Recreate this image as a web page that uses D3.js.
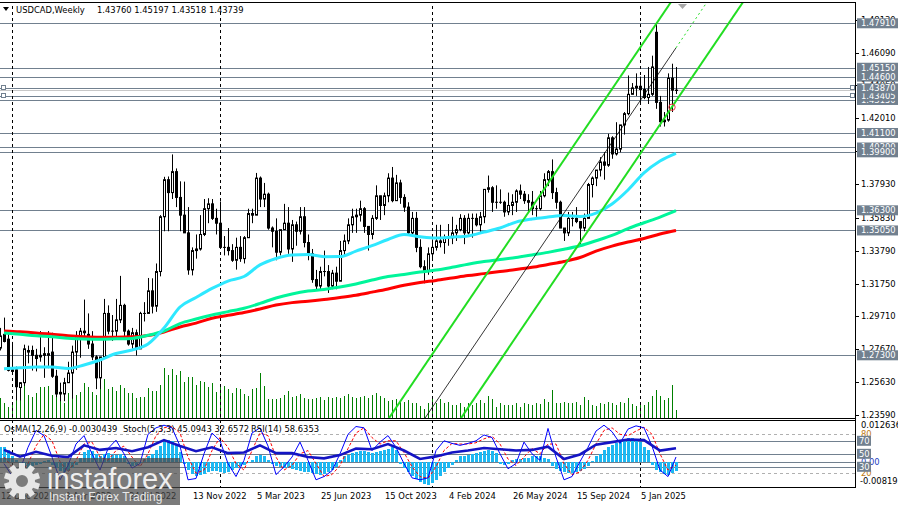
<!DOCTYPE html>
<html><head><meta charset="utf-8">
<script src="https://d3js.org/d3.v7.min.js"></script>
<style>
html,body{margin:0;padding:0;background:#fff;}
svg{display:block;}
text{font-family:"DejaVu Sans",Verdana,sans-serif;font-size:8.4px;}
</style></head><body>
<svg id="chart" width="898" height="505"></svg>
<script>
// ---------------- DATA ----------------
const firstWeek = "2021-12-12", lastWeek = "2025-03-09";
const open = [1.2775,1.2860,1.2830,1.2630,1.2640,1.2530,1.2560,1.2750,1.2760,1.2730,
1.2720,1.2740,1.2730,1.2750,1.2600,1.2490,1.2490,1.2560,1.2620,1.2750,
1.2850,1.2880,1.2860,1.2800,1.2720,1.2590,1.2720,1.2990,1.2880,1.2880,
1.2950,1.3040,1.2880,1.2800,1.2870,1.2770,1.2990,1.2990,1.3130,1.3035,
1.3250,1.3590,1.3820,1.3740,1.3870,1.3710,1.3600,1.3490,1.3260,1.3380,
1.3390,1.3480,1.3640,1.3670,1.3580,1.3550,1.3400,1.3400,1.3380,1.3320,
1.3400,1.3330,1.3460,1.3610,1.3600,1.3830,1.3700,1.3730,1.3520,1.3500,
1.3370,1.3510,1.3550,1.3390,1.3540,1.3500,1.3590,1.3430,1.3360,1.3200,
1.3160,1.3250,1.3250,1.3160,1.3240,1.3190,1.3380,1.3440,1.3540,1.3590,
1.3600,1.3640,1.3530,1.3480,1.3580,1.3720,1.3660,1.3720,1.3830,1.3690,
1.3800,1.3710,1.3650,1.3490,1.3580,1.3400,1.3280,1.3250,1.3360,1.3400,
1.3440,1.3430,1.3460,1.3460,1.3490,1.3510,1.3580,1.3490,1.3580,1.3580,
1.3540,1.3590,1.3760,1.3770,1.3680,1.3680,1.3680,1.3620,1.3660,1.3680,
1.3750,1.3730,1.3690,1.3680,1.3640,1.3640,1.3720,1.3820,1.3870,1.3740,
1.3680,1.3520,1.3490,1.3580,1.3580,1.3560,1.3520,1.3580,1.3790,1.3830,
1.3880,1.3930,1.3910,1.4080,1.3980,1.4010,1.4160,1.4230,1.4350,1.4390,
1.4400,1.4380,1.4330,1.4350,1.4735,1.4300,1.4180,1.4190,1.4450,1.4376];
const high = [1.2900,1.2964,1.2870,1.2813,1.2660,1.2563,1.2796,1.2790,1.2790,1.2770,
1.2880,1.2780,1.2880,1.2870,1.2640,1.2560,1.2590,1.2690,1.2790,1.2880,
1.2900,1.3076,1.2990,1.2880,1.2730,1.2700,1.3080,1.3040,1.2980,1.3080,
1.3223,1.3050,1.2890,1.2900,1.2890,1.3000,1.3060,1.3210,1.3208,1.3300,
1.3600,1.3838,1.3840,1.3977,1.3890,1.3810,1.3808,1.3650,1.3400,1.3480,
1.3600,1.3700,1.3705,1.3700,1.3640,1.3685,1.3470,1.3520,1.3420,1.3460,
1.3470,1.3470,1.3640,1.3640,1.3862,1.3840,1.3800,1.3740,1.3530,1.3580,
1.3470,1.3670,1.3650,1.3570,1.3560,1.3650,1.3650,1.3480,1.3390,1.3260,
1.3280,1.3380,1.3290,1.3260,1.3280,1.3440,1.3480,1.3580,1.3640,1.3640,
1.3690,1.3650,1.3530,1.3600,1.3785,1.3720,1.3740,1.3860,1.3899,1.3850,
1.3820,1.3730,1.3680,1.3620,1.3620,1.3450,1.3320,1.3400,1.3450,1.3540,
1.3540,1.3480,1.3545,1.3590,1.3540,1.3606,1.3600,1.3610,1.3610,1.3610,
1.3620,1.3760,1.3846,1.3780,1.3785,1.3760,1.3690,1.3740,1.3730,1.3760,
1.3790,1.3750,1.3730,1.3750,1.3660,1.3750,1.3860,1.3880,1.3946,1.3770,
1.3690,1.3520,1.3620,1.3620,1.3650,1.3560,1.3610,1.3800,1.3840,1.3880,
1.3960,1.3990,1.4105,1.4090,1.4177,1.4160,1.4240,1.4467,1.4420,1.4480,
1.4460,1.4470,1.4520,1.4590,1.4793,1.4340,1.4240,1.4480,1.4540,1.45197];
const low = [1.2760,1.2810,1.2630,1.2620,1.2450,1.2450,1.2540,1.2680,1.2635,1.2630,
1.2690,1.2590,1.2650,1.2590,1.2470,1.2445,1.2445,1.2560,1.2460,1.2640,
1.2715,1.2850,1.2770,1.2700,1.2520,1.2520,1.2720,1.2860,1.2820,1.2840,
1.2930,1.2850,1.2790,1.2770,1.2728,1.2770,1.2940,1.2990,1.2990,1.3000,
1.3220,1.3500,1.3500,1.3700,1.3650,1.3500,1.3490,1.3230,1.3226,1.3330,
1.3380,1.3470,1.3550,1.3570,1.3480,1.3400,1.3350,1.3350,1.3310,1.3262,
1.3310,1.3300,1.3460,1.3550,1.3600,1.3650,1.3650,1.3510,1.3400,1.3320,
1.3350,1.3510,1.3360,1.3310,1.3410,1.3480,1.3400,1.3320,1.3180,1.3130,
1.3140,1.3220,1.3117,1.3140,1.3140,1.3190,1.3350,1.3420,1.3490,1.3490,
1.3560,1.3490,1.3380,1.3450,1.3570,1.3570,1.3600,1.3680,1.3680,1.3690,
1.3670,1.3620,1.3480,1.3480,1.3370,1.3270,1.3177,1.3230,1.3330,1.3380,
1.3400,1.3360,1.3410,1.3420,1.3440,1.3500,1.3420,1.3480,1.3460,1.3530,
1.3490,1.3550,1.3740,1.3620,1.3640,1.3670,1.3590,1.3600,1.3600,1.3620,
1.3700,1.3670,1.3620,1.3600,1.3590,1.3630,1.3710,1.3780,1.3700,1.3640,
1.3520,1.3440,1.3470,1.3530,1.3550,1.3420,1.3500,1.3580,1.3710,1.3780,
1.3840,1.3820,1.3900,1.3950,1.3970,1.3990,1.4100,1.4220,1.4350,1.4340,
1.4300,1.4320,1.4290,1.4340,1.4260,1.4150,1.4150,1.4180,1.4240,1.43518];
const close = [1.2850,1.2816,1.2637,1.2640,1.2535,1.2560,1.2770,1.2760,1.2730,1.2710,
1.2730,1.2730,1.2740,1.2600,1.2490,1.2500,1.2560,1.2620,1.2750,1.2850,
1.2880,1.2870,1.2800,1.2720,1.2590,1.2720,1.2990,1.2880,1.2880,1.2950,
1.3040,1.2880,1.2800,1.2870,1.2770,1.2990,1.2990,1.3130,1.3035,1.3250,
1.3590,1.3820,1.3740,1.3870,1.3710,1.3600,1.3490,1.3260,1.3380,1.3390,
1.3480,1.3640,1.3670,1.3580,1.3550,1.3400,1.3400,1.3380,1.3320,1.3400,
1.3330,1.3460,1.3610,1.3600,1.3830,1.3700,1.3730,1.3520,1.3500,1.3370,
1.3510,1.3550,1.3390,1.3540,1.3500,1.3590,1.3430,1.3360,1.3200,1.3160,
1.3250,1.3250,1.3160,1.3240,1.3190,1.3380,1.3440,1.3540,1.3590,1.3600,
1.3640,1.3530,1.3480,1.3580,1.3720,1.3660,1.3720,1.3830,1.3690,1.3800,
1.3710,1.3650,1.3490,1.3580,1.3400,1.3280,1.3250,1.3360,1.3400,1.3440,
1.3430,1.3460,1.3460,1.3490,1.3510,1.3580,1.3490,1.3580,1.3580,1.3540,
1.3590,1.3760,1.3770,1.3680,1.3680,1.3680,1.3620,1.3660,1.3680,1.3750,
1.3730,1.3690,1.3680,1.3640,1.3640,1.3720,1.3820,1.3870,1.3740,1.3680,
1.3520,1.3490,1.3580,1.3580,1.3560,1.3520,1.3580,1.3790,1.3830,1.3880,
1.3930,1.3910,1.4080,1.3980,1.4010,1.4160,1.4230,1.4350,1.4390,1.4400,
1.4380,1.4330,1.4350,1.4520,1.4300,1.4180,1.4190,1.4450,1.4376,1.43739];
const volume = [197,147,113,147,230,280,330,230,213,247,313,313,320,230,207,180,147,247,213,230,
263,353,313,263,230,297,387,287,313,273,330,297,247,247,197,213,213,297,273,273,
330,503,430,487,430,473,363,407,407,330,373,363,313,347,263,320,320,287,247,297,
287,240,220,287,297,447,320,187,187,187,197,230,273,207,220,240,197,187,187,197,
207,180,213,197,207,197,220,240,213,197,213,220,197,230,247,220,197,173,180,187,
180,163,180,147,153,120,87,153,220,147,187,147,163,130,130,153,113,147,130,147,
180,147,220,187,113,147,130,130,130,147,113,147,140,130,147,140,187,163,280,147,
147,163,153,147,163,130,207,180,130,120,150,140,160,150,130,160,150,200,140,120,
150,130,160,220,280,220,180,200,330,80];
// moving averages, sampled every 4th week starting with the 2nd week
const maFast = [1.2646,1.2652,1.2657,1.2657,1.2648,1.2670,1.2701,1.2741,1.2763,1.2800,1.2899,1.3030,1.3089,1.3145,1.3191,1.3219,1.3291,1.3331,1.3353,1.3356,1.3342,1.3343,1.3377,1.3411,1.3449,1.3480,1.3466,1.3458,1.3464,1.3471,1.3495,1.3520,1.3557,1.3576,1.3588,1.3598,1.3592,1.3613,1.3669,1.3756,1.3862,1.3936,1.3984];
const maMid = [1.2868,1.2860,1.2851,1.2845,1.2836,1.2831,1.2829,1.2832,1.2835,1.2854,1.2881,1.2927,1.2955,1.2980,1.3001,1.3022,1.3052,1.3086,1.3111,1.3129,1.3139,1.3154,1.3173,1.3197,1.3219,1.3232,1.3247,1.3259,1.3276,1.3295,1.3312,1.3325,1.3337,1.3353,1.3369,1.3388,1.3410,1.3441,1.3474,1.3517,1.3553,1.3588,1.3628];
const maSlow = [1.2881,1.2876,1.2869,1.2860,1.2851,1.2845,1.2842,1.2842,1.2845,1.2853,1.2875,1.2906,1.2930,1.2960,1.2978,1.2996,1.3017,1.3042,1.3057,1.3065,1.3076,1.3089,1.3103,1.3122,1.3142,1.3165,1.3182,1.3195,1.3210,1.3225,1.3237,1.3250,1.3262,1.3276,1.3294,1.3312,1.3337,1.3377,1.3408,1.3433,1.3455,1.3483,1.3505];
const rsi = [56,45.5,53,47,45,63,56,59,54,60,71,62,54,60,51,52,63,51,51,45,43,48,58,57,65,55,42,46,52,55,59,57,55,56,61,42,49,64,68,72,71,55,58.6353];
// stochastic, sampled every 2nd week starting with the 2nd week
const stochMain = [35,16,25,60,86,78,45,10,32,65,78,50,25,58,71,50,28,35,80,90,94,90,62,10,12,50,82,70,35,15,40,82,90,62,18,30,45,68,40,10,15,24,50,80,92,90,55,68,78,60,35,13,10,13,55,70,66,63,66,70,79,75,50,27,35,68,50,40,89,45,10,15,38,60,85,94,84,66,88,93,90,62,25,15,45.0943];
const stochSignal = [45,30,20,35,62,80,70,38,22,40,65,68,45,40,55,62,45,30,50,78,90,92,82,45,20,25,55,75,60,35,25,55,82,78,45,25,32,50,55,35,15,18,32,58,82,90,75,65,70,70,52,30,15,12,30,55,66,65,65,67,73,77,65,42,32,45,58,50,65,65,35,18,22,40,65,86,90,80,78,85,91,80,50,25,32.6572];
const osma = [0.0047,0.0044,0.0037,0.0019,0.0006,-0.0006,-0.0016,-0.0019,-0.0012,-0.0009,-0.0006,0.0003,0.0006,
-0.0009,-0.0019,-0.0028,-0.0031,-0.0028,-0.0019,-0.0009,0.0012,0.0031,0.0037,0.0034,0.0025,0.0019,0.0025,0.0028,0.0025,
0.0022,0.0025,0.0019,-0.0006,-0.0012,-0.0009,-0.0003,0.0009,0.0019,0.0025,0.0037,0.0050,0.0062,0.0068,0.0065,0.0053,0.0031,
-0.0006,-0.0025,-0.0037,-0.0044,-0.0040,-0.0037,-0.0031,-0.0028,-0.0028,-0.0031,-0.0034,-0.0031,-0.0025,-0.0019,-0.0012,-0.0009,-0.0003,
0.0006,0.0019,0.0022,0.0016,0.0006,-0.0006,-0.0012,-0.0016,-0.0019,-0.0019,-0.0022,-0.0025,-0.0028,-0.0031,-0.0031,
-0.0034,-0.0037,-0.0040,-0.0037,-0.0031,-0.0025,-0.0016,0.0006,0.0016,0.0022,0.0028,0.0031,0.0034,0.0034,0.0031,0.0028,0.0031,0.0034,0.0037,0.0040,0.0044,0.0037,
-0.0006,-0.0019,-0.0031,-0.0044,-0.0053,-0.0062,-0.0068,-0.0072,-0.0065,-0.0056,-0.0044,-0.0031,-0.0019,-0.0009,0.0006,0.0016,0.0019,
0.0022,0.0025,0.0028,0.0031,0.0034,0.0037,0.0034,0.0028,-0.0006,-0.0009,-0.0006,0.0006,0.0009,0.0009,
0.0012,0.0012,0.0016,0.0019,0.0016,0.0012,0.0009,-0.0012,-0.0022,-0.0028,-0.0031,-0.0034,-0.0034,-0.0031,-0.0028,-0.0022,-0.0012,0.0003,
0.0016,0.0025,0.0037,0.0047,0.0053,0.0059,0.0065,0.0068,0.0072,0.0072,0.0068,0.0062,0.0047,0.0037,
-0.0009,-0.0025,-0.0031,-0.0037,-0.0040,-0.0035,-0.0030439];
const levels = [1.4791,1.4515,1.4460,1.4315,1.43405,1.4387,1.4110,1.4020,1.3990,1.3630,1.3505,1.2730];
const priceTicks = [1.4813,1.4609,1.4405,1.4201,1.3997,1.3793,1.3583,1.3379,1.3175,1.2971,1.2767,1.2563,1.2359];
const dateTicks = ["2021-12-12","2022-04-03","2022-07-24","2022-11-13","2023-03-05","2023-06-25","2023-10-15","2024-02-04","2024-05-26","2024-09-15","2025-01-05"];
const yearStarts = ["2022-01-02","2023-01-01","2024-01-07","2025-01-05"];
const channelMid = [["2023-12-24",1.2331],["2025-03-02",1.4602]];
const channelHalf = 0.033;
const bidPrice = 1.43739;
const alertPrice = 1.4270;
const oscLevelsDashed = [80,20], oscLevelsSolid = [70,50,30];
const header = {name:"USDCAD,Weekly", ohlc:"1.43760 1.45197 1.43518 1.43739"};
const indHeader = ["OsMA(12,26,9) -0.0030439", "Stoch(5,3,3) 45.0943 32.6572", "RSI(14) 58.6353"];
const osmaRange = [-0.008195, 0.012636];

// ---------------- SETUP ----------------
const P = d3.utcParse("%Y-%m-%d");
const dates = d3.utcSunday.range(P(firstWeek), d3.utcDay.offset(P(lastWeek),1));
const svg = d3.select("#chart");
const x = d3.scaleUtc().domain([dates[0], dates[dates.length-1]]).range([0, 676]);
const y = d3.scaleLinear().domain([1.23408, 1.49169]).range([418, 3]);
const yVol = d3.scaleLinear().domain([0, 500]).range([418, 368]);
const yOsma = d3.scaleLinear().domain(osmaRange).range([488, 421]);
const yOsc = d3.scaleLinear().domain([0, 100]).range([486.3, 421.3]);
const cx = d => Math.round(x(d));
const fmt5 = d3.format(".5f");
const LVL = "#71808f";

const defs = svg.append("defs");
defs.append("clipPath").attr("id","cm").append("rect").attr("x",0).attr("y",3).attr("width",855).attr("height",415);
defs.append("clipPath").attr("id","ci").append("rect").attr("x",0).attr("y",421).attr("width",855).attr("height",66);

svg.append("rect").attr("width",898).attr("height",505).attr("fill","#fff");
const gm = svg.append("g").attr("clip-path","url(#cm)");
const gi = svg.append("g").attr("clip-path","url(#ci)");

// level lines
gm.selectAll(".lvl").data(levels).join("line")
  .attr("x1",0).attr("x2",855).attr("y1",d=>Math.round(y(d))+0.5).attr("y2",d=>Math.round(y(d))+0.5)
  .attr("stroke",LVL).attr("stroke-width",1).attr("shape-rendering","crispEdges");
gm.append("line").attr("x1",0).attr("x2",855).attr("y1",Math.round(y(bidPrice))+0.5).attr("y2",Math.round(y(bidPrice))+0.5)
  .attr("stroke","#c8c8c8").attr("shape-rendering","crispEdges");

// volumes
gm.selectAll(".vol").data(dates).join("line")
  .attr("x1",d=>cx(d)+0.5).attr("x2",d=>cx(d)+0.5)
  .attr("y1",418).attr("y2",(d,i)=>yVol(volume[i]))
  .attr("stroke","#008000").attr("shape-rendering","crispEdges");

// year separators
[gm, gi].forEach(g=>{
  g.selectAll(".sep").data(yearStarts).join("line")
   .attr("x1",d=>cx(P(d))+0.5).attr("x2",d=>cx(P(d))+0.5).attr("y1",0).attr("y2",505)
   .attr("stroke","#000").attr("stroke-dasharray","3,3").attr("shape-rendering","crispEdges");
});

// candles
const cg = gm.append("g");
cg.selectAll(".wick").data(dates).join("line")
  .attr("x1",d=>cx(d)+0.5).attr("x2",d=>cx(d)+0.5)
  .attr("y1",(d,i)=>y(high[i])).attr("y2",(d,i)=>y(low[i]))
  .attr("stroke","#000").attr("stroke-width",1);
cg.selectAll(".body").data(dates).join("rect")
  .attr("x",d=>cx(d)-0.5).attr("width",2)
  .attr("y",(d,i)=>y(Math.max(open[i],close[i])))
  .attr("height",(d,i)=>Math.max(0.01,Math.abs(y(open[i])-y(close[i]))))
  .attr("fill",(d,i)=>close[i]>=open[i]?"#fff":"#000")
  .attr("stroke","#000").attr("stroke-width",1);

// moving averages
const maDates = d3.range(1, dates.length, 4).map(i=>dates[i]);
const lineP = d3.line().x((d,i)=>x(maDates[i])).y(d=>y(d)).curve(d3.curveMonotoneX);
[[maSlow,"#ff0000"],[maMid,"#00f59a"],[maFast,"#2ee8ff"]].forEach(([arr,col])=>{
  gm.append("path").attr("d",lineP(arr)).attr("fill","none").attr("stroke",col).attr("stroke-width",3);
});

// regression channel
const cx0 = x(P(channelMid[0][0])), cx1 = x(P(channelMid[1][0]));
function chanPt(t, off){
  const xx = cx0 + (cx1-cx0)*t;
  const pp = channelMid[0][1] + (channelMid[1][1]-channelMid[0][1])*t + off;
  return [xx, y(pp)];
}
const tEnd = (x(dates[dates.length-1]) - cx0)/(cx1-cx0);
[channelHalf, -channelHalf].forEach(off=>{
  const a = chanPt(-1, off), b = chanPt(2.5, off);
  gm.append("line").attr("x1",a[0]).attr("y1",a[1]).attr("x2",b[0]).attr("y2",b[1])
    .attr("stroke","#22dd22").attr("stroke-width",2);
});
{
  const a = chanPt(-1,0), m = chanPt(tEnd,0), b = chanPt(2.5,0);
  gm.append("line").attr("x1",a[0]).attr("y1",a[1]).attr("x2",m[0]).attr("y2",m[1]).attr("stroke","#000").attr("stroke-width",0.8);
  gm.append("line").attr("x1",m[0]).attr("y1",m[1]).attr("x2",b[0]).attr("y2",b[1]).attr("stroke","#22dd22").attr("stroke-width",1).attr("stroke-dasharray","2,3");
}
// markers
gm.append("circle").attr("cx",cx(dates[168])).attr("cy",y(alertPrice)).attr("r",3.2).attr("fill","none").attr("stroke","#ee3344").attr("stroke-width",1);
gm.append("path").attr("d",`M${cx(dates[169])+2},4 h9 l-4.5,5 z`).attr("fill","#a8a8a8");
[1.4387,1.43405].forEach(p=>{
  [1,850].forEach(xx=>gm.append("rect").attr("x",xx+0.5).attr("y",Math.round(y(p))-2.5).attr("width",4).attr("height",4)
    .attr("fill","#fff").attr("stroke",LVL).attr("shape-rendering","crispEdges"));
});

// ---------- indicator window ----------
oscLevelsDashed.forEach(v=>gi.append("line").attr("x1",0).attr("x2",855).attr("y1",Math.round(yOsc(v))+0.5).attr("y2",Math.round(yOsc(v))+0.5)
  .attr("stroke","#b0b0b0").attr("stroke-dasharray","3,3").attr("shape-rendering","crispEdges"));
[...oscLevelsSolid.map(v=>yOsc(v)), yOsma(0)].forEach(yy=>gi.append("line").attr("x1",0).attr("x2",855)
  .attr("y1",Math.round(yy)+0.5).attr("y2",Math.round(yy)+0.5).attr("stroke",LVL).attr("shape-rendering","crispEdges"));
gi.selectAll(".os").data(dates).join("rect")
  .attr("x",d=>cx(d)-1).attr("width",3)
  .attr("y",(d,i)=>Math.min(yOsma(0),yOsma(osma[i])))
  .attr("height",(d,i)=>Math.abs(yOsma(osma[i])-yOsma(0)))
  .attr("fill","#1cb8f2").attr("shape-rendering","crispEdges");
const stDates = d3.range(1, dates.length, 2).map(i=>dates[i]);
const lineS = d3.line().x((d,i)=>x(stDates[i])).y(d=>yOsc(d));
gi.append("path").attr("d",lineS(stochSignal)).attr("fill","none").attr("stroke","#ff0000").attr("stroke-width",1).attr("stroke-dasharray","3,2");
gi.append("path").attr("d",lineS(stochMain)).attr("fill","none").attr("stroke","#0000ff").attr("stroke-width",1);
const lineR = d3.line().x((d,i)=>x(maDates[i])).y(d=>yOsc(d));
gi.append("path").attr("d",lineR(rsi)).attr("fill","none").attr("stroke","#1414c4").attr("stroke-width",2.6);

// ---------- frames ----------
const fr = svg.append("g").attr("fill","none").attr("stroke","#000").attr("shape-rendering","crispEdges");
fr.append("line").attr("x1",0).attr("x2",855).attr("y1",2.5).attr("y2",2.5);
fr.append("line").attr("x1",0).attr("x2",855).attr("y1",418.5).attr("y2",418.5);
fr.append("line").attr("x1",0).attr("x2",855).attr("y1",420.5).attr("y2",420.5);
fr.append("line").attr("x1",0).attr("x2",855).attr("y1",487.5).attr("y2",487.5);
fr.append("line").attr("x1",855.5).attr("x2",855.5).attr("y1",2).attr("y2",488);

// ---------- price axis ----------
const ax = svg.append("g");
priceTicks.forEach(p=>{
  const yy = y(p);
  ax.append("line").attr("x1",855).attr("x2",859).attr("y1",Math.round(yy)+0.5).attr("y2",Math.round(yy)+0.5).attr("stroke","#000").attr("shape-rendering","crispEdges");
  ax.append("text").attr("x",861).attr("y",yy+3).attr("fill","#000").text(fmt5(p));
});
levels.forEach(p=>{
  const yy = y(p);
  ax.append("rect").attr("x",857).attr("y",yy-5).attr("width",41).attr("height",10).attr("fill",LVL);
  ax.append("text").attr("x",861).attr("y",yy+3).attr("fill","#fff").text(fmt5(p));
});
// indicator axis
ax.append("text").attr("x",861).attr("y",428).attr("fill","#000").text(String(osmaRange[1]));
ax.append("text").attr("x",861).attr("y",yOsc(80)+3).attr("fill","#c07a10").text("80");
ax.append("text").attr("x",861).attr("y",yOsc(20)+3).attr("fill","#c07a10").text("20");
ax.append("text").attr("x",861).attr("y",yOsma(0)+3).attr("fill","#1c3cc0").text("0.00");
oscLevelsSolid.forEach(v=>{
  const yy=yOsc(v);
  ax.append("rect").attr("x",857).attr("y",yy-5).attr("width",14).attr("height",10).attr("fill",LVL);
  ax.append("text").attr("x",859).attr("y",yy+3).attr("fill","#fff").text(v);
});
ax.append("text").attr("x",860).attr("y",484).attr("fill","#000").text(String(osmaRange[0]));

// date axis
const tf = d3.utcFormat("%-d %b %Y");
dateTicks.forEach(d=>{
  ax.append("text").attr("x",cx(P(d))+1).attr("y",499).attr("fill","#000").text(tf(P(d)));
});

// headers
svg.append("path").attr("d","M3,7 h6 l-3,4 z").attr("fill","#000");
svg.append("text").attr("x",16).attr("y",13).attr("fill","#000").text(header.name);
svg.append("text").attr("x",97).attr("y",13).attr("fill","#000").text(header.ohlc);
svg.append("text").attr("x",4).attr("y",432).attr("fill","#000").text(indHeader[0]);
svg.append("text").attr("x",123).attr("y",432).attr("fill","#000").text(indHeader[1]);
svg.append("text").attr("x",251).attr("y",432).attr("fill","#000").text(indHeader[2]);

// watermark
const wm = svg.append("g");
wm.append("rect").attr("x",0).attr("y",458).attr("width",180).attr("height",47).attr("fill","rgba(72,72,72,0.72)");
const gear = wm.append("g").attr("transform","translate(22,481)").attr("fill","#e6e6e6");
d3.range(10).forEach(k=>gear.append("rect").attr("x",-3).attr("y",-18).attr("width",6).attr("height",8).attr("transform",`rotate(${k*36})`));
gear.append("path").attr("fill-rule","evenodd").attr("d",d3.arc()({innerRadius:6,outerRadius:13,startAngle:0,endAngle:2*Math.PI}));
wm.append("text").attr("x",47).attr("y",489).attr("fill","#eeeeee").style("font-size","29px").style("font-family","'Liberation Sans',Arial,sans-serif").text("instaforex");
wm.append("text").attr("x",49).attr("y",501).attr("fill","#e8e8e8").style("font-size","12px").style("font-family","'Liberation Sans',Arial,sans-serif").text("Instant Forex Trading");
</script></body></html>
